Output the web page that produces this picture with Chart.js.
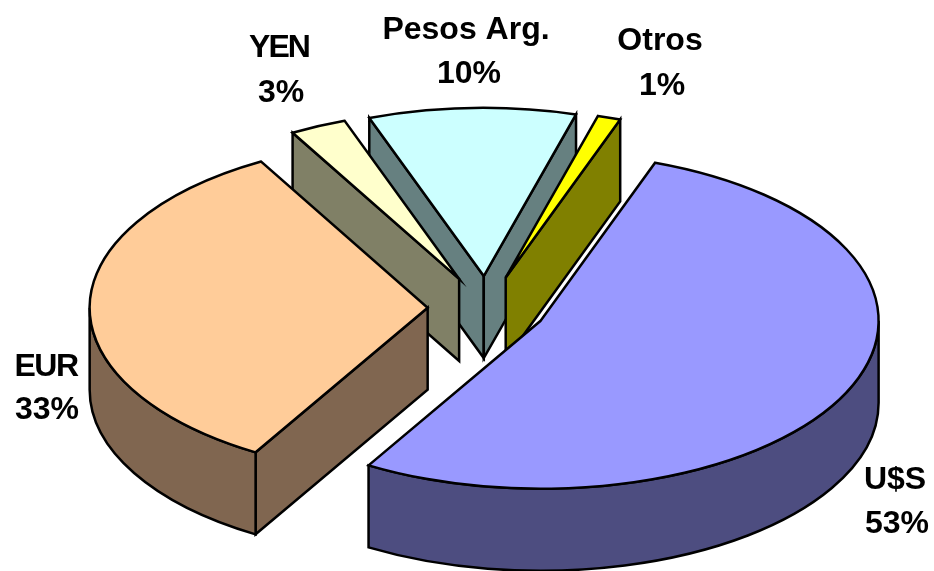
<!DOCTYPE html>
<html>
<head>
<meta charset="utf-8">
<style>html,body{margin:0;padding:0;background:#fff}canvas{display:block}</style>
<script src="https://cdn.jsdelivr.net/npm/chart.js@4"></script>
</head>
<body>
<canvas id="c" width="934" height="571"></canvas>
<script>
const categories = ['U$S', 'EUR', 'YEN', 'Pesos Arg.', 'Otros'];
const shares = [53.0, 33.3, 2.7, 9.9, 1.1];
const topColors = ['#9999FF', '#FFCC99', '#FFFFCC', '#CCFFFF', '#FFFF00'];
const sideColors = ['#4D4D80', '#806650', '#808066', '#668080', '#808000'];
const explode = [30, 29, 32, 32, 32];
const labelCenters = [[895, 480, 897, 524], [46, 367, 47, 410], [279, 48, 281, 93], [466, 30, 469, 74], [660, 41, 662, 86]];
const labelTracking = ['0px', '-1.5px', '-2px', '0px', '0px'];

const stretchX = 338 / 168;
const depth = 82;

const pie3d = {
  id: 'pie3d',
  beforeDatasetDraw(chart, args) {
    const ctx = chart.ctx;
    const arcs = args.meta.data;
    const parts = arcs.map((el, i) => {
      const mid = (el.startAngle + el.endAngle) / 2;
      const off = el.options.offset;
      return {
        i, a0: el.startAngle, a1: el.endAngle, r: el.outerRadius,
        x: el.x + Math.cos(mid) * off * stretchX,
        y: el.y + Math.sin(mid) * off
      };
    }).sort((p, q) => p.y - q.y);
    ctx.save();
    ctx.lineWidth = 2.5;
    ctx.lineJoin = 'miter';
    ctx.strokeStyle = '#000';
    const pt = (p, a, dz) => [p.x + Math.cos(a) * p.r * stretchX, p.y + Math.sin(a) * p.r + dz];
    const paint = (fill) => { ctx.fillStyle = fill; ctx.fill(); ctx.stroke(); };
    const wall = (p, a, fill) => {
      const e = pt(p, a, 0), f = pt(p, a, depth);
      ctx.beginPath();
      ctx.moveTo(p.x, p.y); ctx.lineTo(e[0], e[1]); ctx.lineTo(f[0], f[1]);
      ctx.lineTo(p.x, p.y + depth); ctx.closePath();
      paint(fill);
    };
    const rim = (p, s, e, fill) => {
      ctx.beginPath();
      ctx.ellipse(p.x, p.y, p.r * stretchX, p.r, 0, s, e, false);
      ctx.ellipse(p.x, p.y + depth, p.r * stretchX, p.r, 0, e, s, true);
      ctx.closePath();
      paint(fill);
    };
    parts.forEach(p => {
      const side = sideColors[p.i];
      if (Math.cos(p.a0) < 0) wall(p, p.a0, side);
      if (Math.cos(p.a1) > 0) wall(p, p.a1, side);
      [0, 2 * Math.PI, -2 * Math.PI].forEach(k => {
        const s = Math.max(p.a0, k), e = Math.min(p.a1, k + Math.PI);
        if (e > s) rim(p, s, e, side);
      });
      ctx.beginPath();
      ctx.moveTo(p.x, p.y);
      ctx.ellipse(p.x, p.y, p.r * stretchX, p.r, 0, p.a0, p.a1, false);
      ctx.closePath();
      paint(topColors[p.i]);
    });
    ctx.restore();
    return false;
  },
  afterDraw(chart) {
    const ctx = chart.ctx;
    ctx.save();
    ctx.fillStyle = '#000';
    ctx.font = 'bold 32px "Liberation Sans", Arial, sans-serif';
    ctx.textAlign = 'center';
    ctx.textBaseline = 'middle';
    categories.forEach((name, i) => {
      const [x1, y1, x2, y2] = labelCenters[i];
      ctx.letterSpacing = labelTracking[i];
      ctx.fillText(name, x1, y1);
      ctx.letterSpacing = '0px';
      ctx.fillText(Math.round(shares[i]) + '%', x2, y2);
    });
    ctx.restore();
  }
};

new Chart(document.getElementById('c'), {
  type: 'pie',
  data: {
    labels: categories,
    datasets: [{
      data: shares,
      backgroundColor: topColors,
      borderColor: '#000',
      borderWidth: 2,
      offset: explode,
      radius: 168,
      rotation: 19.8
    }]
  },
  options: {
    responsive: false,
    animation: false,
    layout: { padding: { left: 38, top: 45 } },
    plugins: { legend: { display: false }, tooltip: { enabled: false } }
  },
  plugins: [pie3d]
});
</script>
</body>
</html>
